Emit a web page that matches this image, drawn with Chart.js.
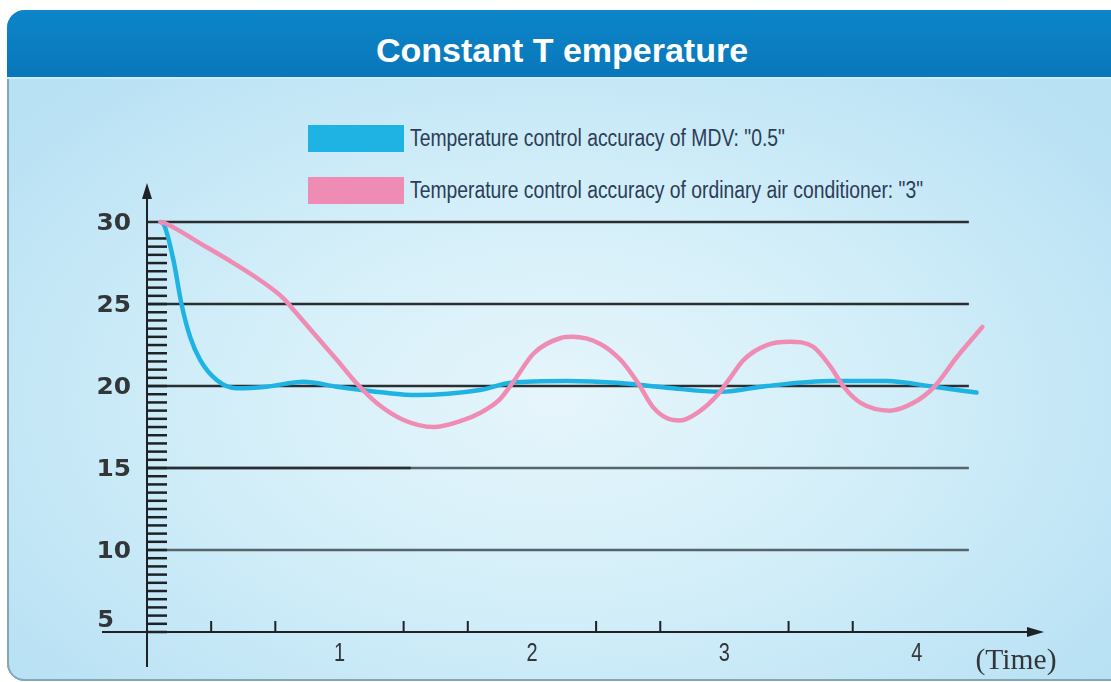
<!DOCTYPE html>
<html>
<head>
<meta charset="utf-8">
<script src="https://cdn.jsdelivr.net/npm/chart.js@4.4.1/dist/chart.umd.min.js"></script>
<style>
  html, body { margin: 0; padding: 0; background: #fff; }
  body { width: 1111px; height: 682px; position: relative; overflow: hidden; font-family: "Liberation Sans", Arial, sans-serif; }
  #panel {
    position: absolute; left: 7px; top: 10px; width: 1120px; height: 671px;
    border-radius: 18px; overflow: hidden;
    background: radial-gradient(ellipse 62% 65% at 49% 58%, #e6f5fb 0%, #d4eff9 45%, #b8e1f4 100%);
    box-shadow: inset 2px 0 0 #86a6b4, inset 0 -2px 0 #86a6b4;
  }
  #head {
    position: absolute; left: 0; top: 0; width: 100%; height: 67px;
    background: linear-gradient(#0d85c9, #0977ba);
    border-bottom: 2px solid #cdeefb;
  }
  #title {
    position: absolute; left: 0; top: 30px; width: 1124px; height: 40px; line-height: 40px;
    text-align: center; color: #fff; font-size: 34px; font-weight: bold;
  }
  .key { position: absolute; left: 308px; width: 96px; height: 27px; }
  .keytext {
    position: absolute; left: 410px; height: 27px; line-height: 27px; font-size: 23px;
    color: #2c3d57; white-space: nowrap; transform: scaleX(0.84); transform-origin: left center;
  }
  canvas { position: absolute; left: 0; top: 0; }
</style>
</head>
<body>
<div id="panel"><div id="head"></div></div>
<div id="title">Constant T emperature</div>
<div id="legend"></div>
<canvas id="myChart" width="1111" height="682"></canvas>
<script>
// values
const seriesNames = ['Temperature control accuracy of MDV: "0.5"', 'Temperature control accuracy of ordinary air conditioner: "3"'];
const seriesColors = ["#1fb3e3", "#ee8cb4"];

const mdvTime = [0.07, 0.085, 0.137, 0.18, 0.224, 0.276, 0.362, 0.466, 0.622, 0.813, 0.986, 1.23, 1.4, 1.73, 1.89, 2.18, 2.44, 2.7, 2.98, 3.22, 3.56, 3.84, 4.09, 4.31];
const mdvTemp = [30, 29.9, 27.7, 24.95, 23.0, 21.6, 20.37, 19.86, 19.96, 20.26, 19.96, 19.6, 19.45, 19.76, 20.2, 20.3, 20.2, 19.9, 19.65, 20.0, 20.3, 20.3, 19.95, 19.6];

const ordTime = [0.07, 0.1, 0.276, 0.449, 0.588, 0.709, 0.761, 0.882, 0.986, 1.09, 1.195, 1.333, 1.489, 1.645, 1.73, 1.83, 1.9, 2.01, 2.15, 2.21, 2.35, 2.46, 2.55, 2.63, 2.7, 2.77, 2.87, 2.96, 3.03, 3.1, 3.22, 3.34, 3.46, 3.55, 3.62, 3.71, 3.86, 3.98, 4.09, 4.21, 4.34];
const ordTemp = [30, 29.9, 28.7, 27.5, 26.45, 25.35, 24.65, 23.0, 21.6, 20.15, 18.95, 17.93, 17.5, 17.93, 18.35, 19.15, 20.2, 22.0, 22.93, 23.0, 22.6, 21.6, 20.2, 18.7, 18.05, 17.9, 18.45, 19.4, 20.5, 21.6, 22.5, 22.7, 22.4, 21.2, 19.95, 18.96, 18.5, 18.96, 19.95, 21.8, 23.6];

const yLabels = [5, 10, 15, 20, 25, 30];
const gridValues = [10, 15, 20, 25, 30];
const xLabels = [1, 2, 3, 4];
const xAxisTitle = "(Time)";

// legend
const legend = document.getElementById("legend");
seriesNames.forEach((name, i) => {
  const top = 125 + i * 52;
  legend.innerHTML += `<div class="key" style="top:${top}px;background:${seriesColors[i]}"></div>` +
    `<div class="keytext" style="top:${top}px">${name.replace(/"/g, "&quot;")}</div>`;
});

const toPoints = (xs, ys) => xs.map((x, i) => ({ x, y: ys[i] }));

function scaledText(ctx, text, x, y, sx, align) {
  ctx.save();
  ctx.translate(x, y);
  ctx.scale(sx, 1);
  ctx.textAlign = align;
  ctx.fillText(text, 0, 0);
  ctx.restore();
}

const axisDeco = {
  id: "axisDeco",
  beforeDatasetsDraw(chart) {
    const { ctx, scales: { x, y } } = chart;
    const x0 = x.getPixelForValue(0);
    const xEnd = x.getPixelForValue(4.27);
    const yBase = y.getPixelForValue(5);

    ctx.save();
    ctx.lineCap = "butt";
    // horizontal grid lines
    gridValues.forEach((v) => {
      const py = y.getPixelForValue(v);
      ctx.lineWidth = 2.5;
      ctx.strokeStyle = v <= 15 ? "#55656c" : "#2a2e31";
      ctx.beginPath();
      ctx.moveTo(x0, py);
      ctx.lineTo(xEnd, py);
      ctx.stroke();
      if (v === 15) {
        ctx.strokeStyle = "#2a2e31";
        ctx.beginPath();
        ctx.moveTo(x0, py);
        ctx.lineTo(x.getPixelForValue(1.37), py);
        ctx.stroke();
      }
    });

    ctx.strokeStyle = "#1e2226";
    ctx.fillStyle = "#1e2226";
    // y axis
    ctx.lineWidth = 2;
    ctx.beginPath();
    ctx.moveTo(x0, yBase + 35);
    ctx.lineTo(x0, y.top + 8);
    ctx.stroke();
    ctx.beginPath();
    ctx.moveTo(x0, y.top - 2);
    ctx.lineTo(x0 - 5, y.top + 14);
    ctx.lineTo(x0 + 5, y.top + 14);
    ctx.closePath();
    ctx.fill();
    // x axis
    ctx.beginPath();
    ctx.moveTo(x0 - 45, yBase);
    ctx.lineTo(x.right - 8, yBase);
    ctx.stroke();
    ctx.beginPath();
    ctx.moveTo(x.right + 2, yBase);
    ctx.lineTo(x.right - 15, yBase - 5);
    ctx.lineTo(x.right - 15, yBase + 5);
    ctx.closePath();
    ctx.fill();

    // dense minor ticks on the y axis
    ctx.lineWidth = 2.5;
    for (let v = 5; v <= 29.01; v += 0.5) {
      const py = y.getPixelForValue(v);
      ctx.beginPath();
      ctx.moveTo(x0, py);
      ctx.lineTo(x0 + 20, py);
      ctx.stroke();
    }
    // short ticks on the x axis
    ctx.lineWidth = 2;
    xLabels.forEach((k) => {
      [k - 2 / 3, k - 1 / 3].forEach((t) => {
        const px = x.getPixelForValue(t);
        ctx.beginPath();
        ctx.moveTo(px, yBase);
        ctx.lineTo(px, yBase - 11);
        ctx.stroke();
      });
    });

    // labels
    ctx.fillStyle = "#333638";
    ctx.textBaseline = "middle";
    ctx.font = "bold 23px 'DejaVu Sans'";
    yLabels.forEach((v) => {
      const py = y.getPixelForValue(v);
      if (v === 5) scaledText(ctx, String(v), 114, py - 11, 1.05, "right");
      else scaledText(ctx, String(v), 131, py + 2, 1.08, "right");
    });
    ctx.font = "25px 'Liberation Sans'";
    xLabels.forEach((v) => {
      scaledText(ctx, String(v), x.getPixelForValue(v), yBase + 22, 0.8, "center");
    });
    ctx.font = "29px 'Liberation Serif'";
    scaledText(ctx, xAxisTitle, 1016, yBase + 29, 1.02, "center");
    ctx.restore();
  }
};

const ctx = document.getElementById("myChart").getContext("2d");
const myChart = new Chart(ctx, {
  type: "line",
  data: {
    datasets: [
      {
        label: seriesNames[1],
        data: toPoints(ordTime, ordTemp),
        borderColor: seriesColors[1],
        borderWidth: 4.5,
        order: 0,
      },
      {
        label: seriesNames[0],
        data: toPoints(mdvTime, mdvTemp),
        borderColor: seriesColors[0],
        borderWidth: 4.5,
        order: 1,
      },
    ],
  },
  options: {
    responsive: false,
    animation: false,
    events: [],
    layout: { padding: { left: 147, right: 69, top: 185, bottom: 50 } },
    elements: {
      point: { radius: 0 },
      line: { cubicInterpolationMode: "monotone", fill: false, borderCapStyle: "round" },
    },
    scales: {
      x: { type: "linear", min: 0, max: 4.65, display: false },
      y: { type: "linear", min: 5, max: 32.26, display: false },
    },
    plugins: { legend: { display: false }, tooltip: { enabled: false } },
  },
  plugins: [axisDeco],
});
</script>
</body>
</html>
